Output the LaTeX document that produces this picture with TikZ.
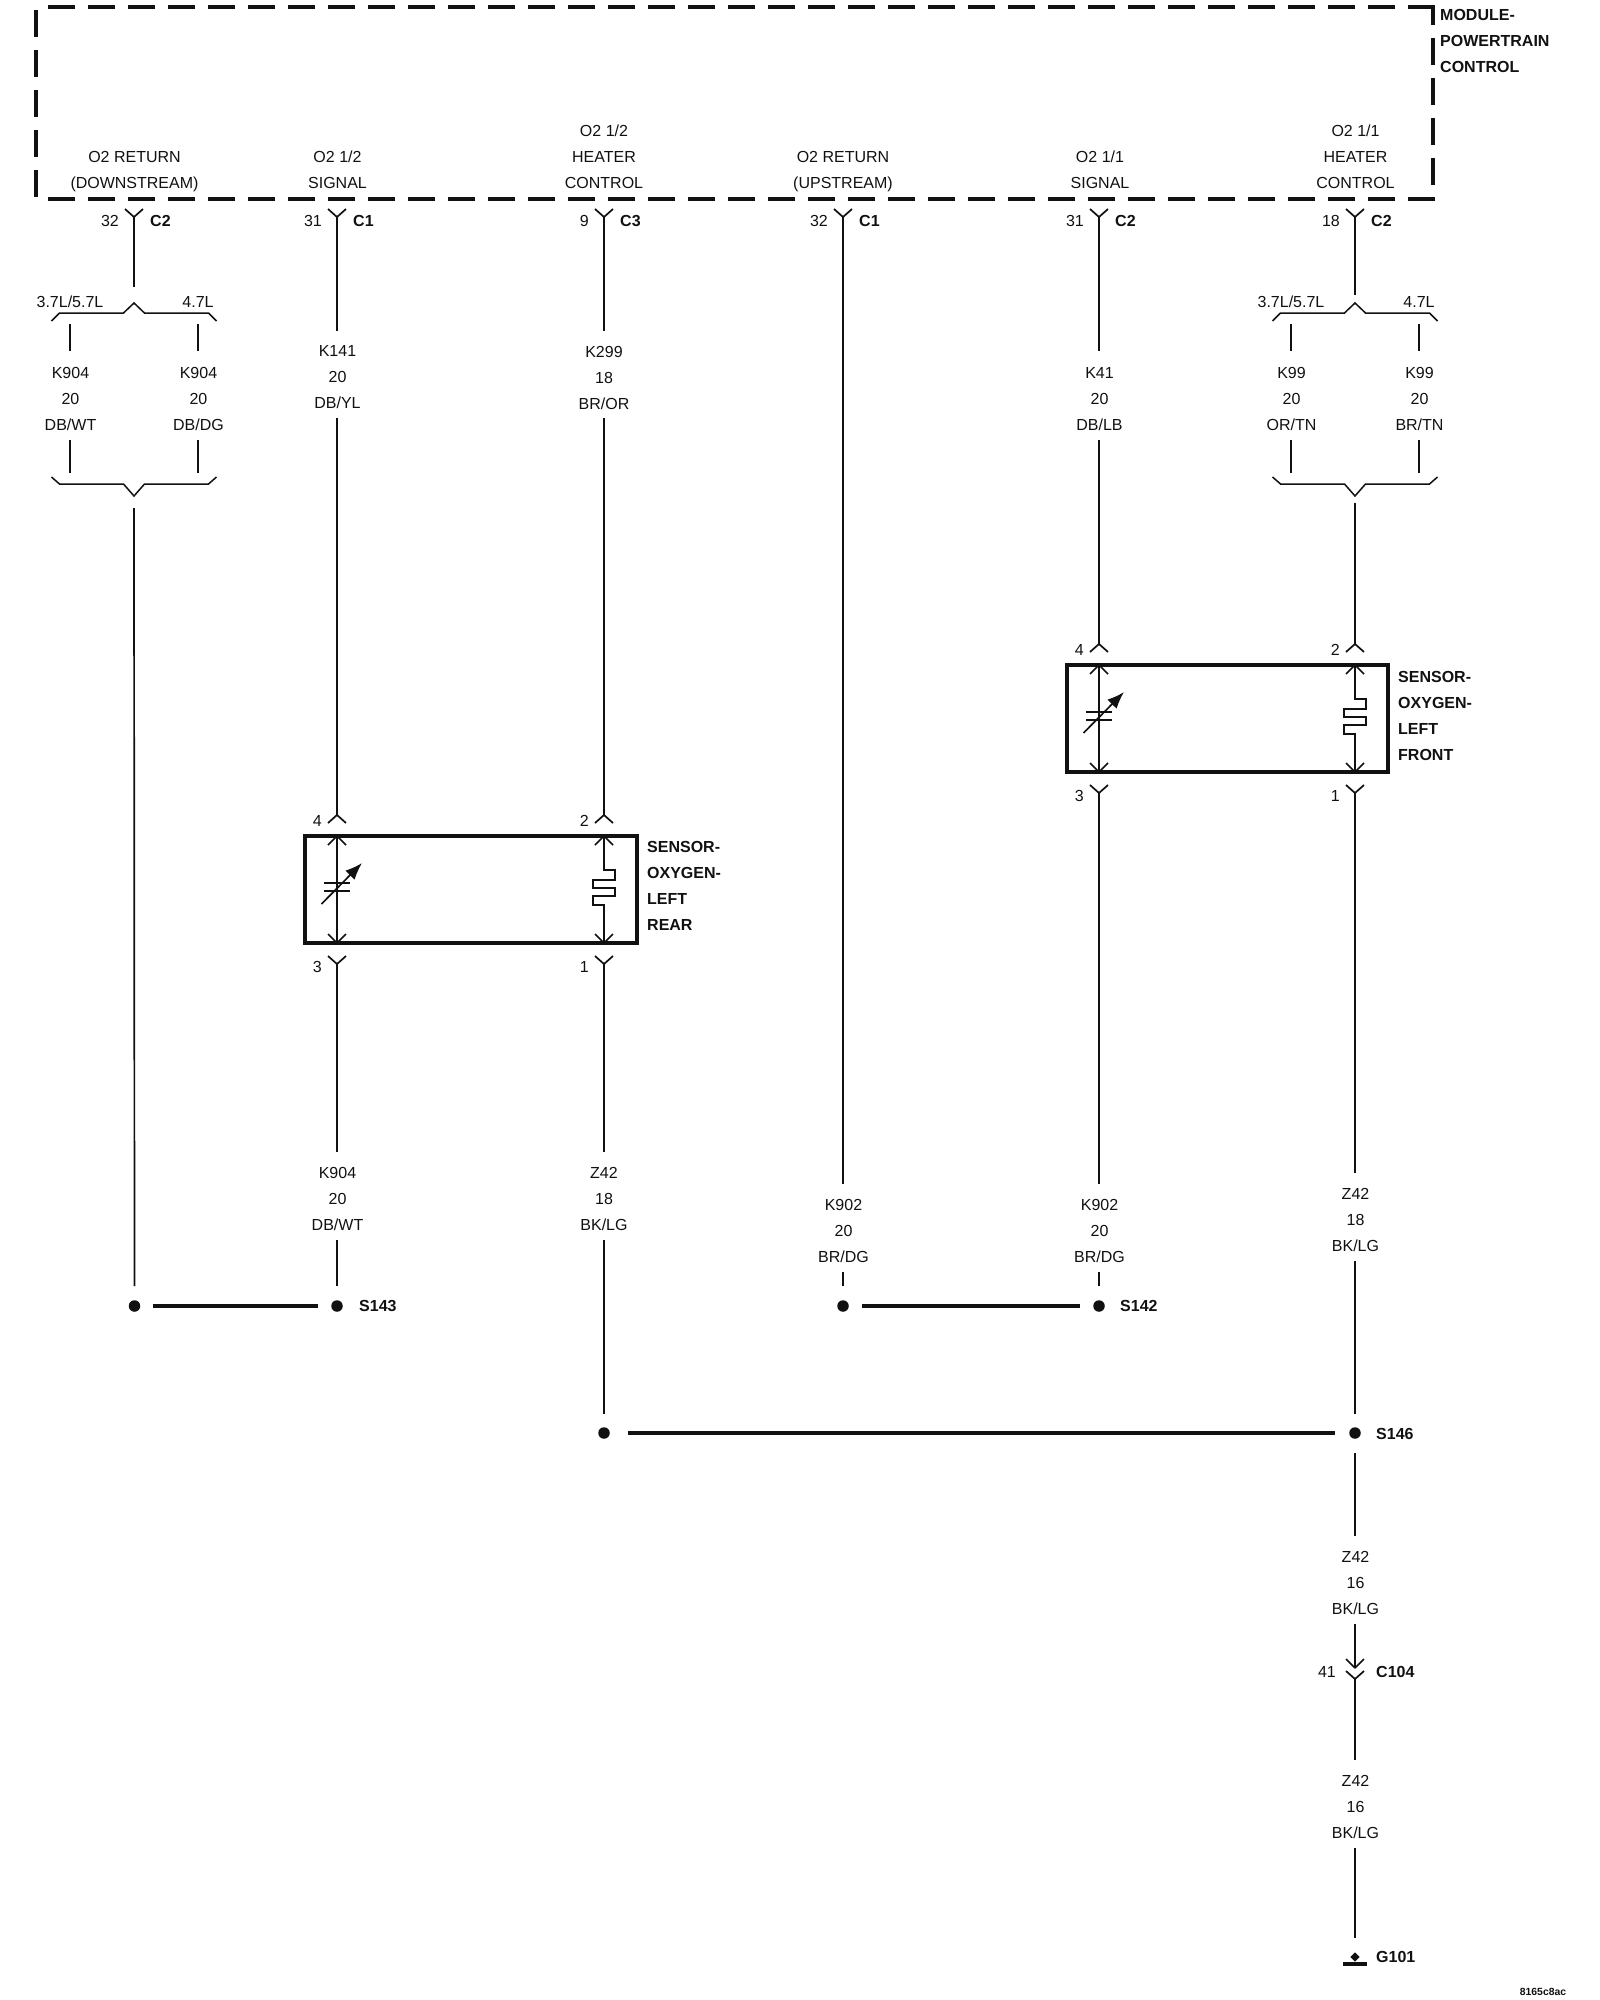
\documentclass[tikz,border=0pt]{standalone}
\usepackage{fontspec}
\setmainfont{Liberation Sans}
\usetikzlibrary{arrows.meta}
\usetikzlibrary{shapes.geometric}
\definecolor{inkcol}{HTML}{111111}

\begin{document}
\begin{tikzpicture}[x=1pt,y=-1pt,color=inkcol,
  wire/.style={line width=1.7pt,line cap=butt},
  bus/.style={line width=3.6pt},
  moddash/.style={line width=4.5pt,dash pattern=on 26.7pt off 13.3pt},
  txt/.style={inner sep=0pt,font=\fontsize{16}{26}\selectfont,align=center},
  wirelab/.style={txt},
  boldlab/.style={inner sep=0pt,font=\fontsize{16}{26}\selectfont\bfseries,align=left,anchor=west},
  sensorbox/.style={draw,rectangle,line width=3.2pt,inner sep=0pt,minimum height=107pt},
  splice/.style={circle,fill,inner sep=0pt,minimum size=11.5pt}]

  \useasboundingbox (0,0) rectangle (1600,2000);

  % module outline
  \draw[moddash] (1435,199) -- (48,199);
  \draw[moddash] (1435,7) -- (47,7);
  \draw[moddash] (1433,185) -- (1433,7);
  \draw[moddash] (36,197) -- (36,10);
  \node[boldlab] (module) at (1440,41) {MODULE-\\POWERTRAIN\\CONTROL};

  \node[txt] (tA) at (134.5,171.5) {O2 RETURN\\(DOWNSTREAM)};
  \node[txt] (tB) at (337.5,169.5) {O2 1/2\\SIGNAL};
  \node[txt] (tC) at (604,156.5) {O2 1/2\\HEATER\\CONTROL};
  \node[txt] (tD) at (843,171.5) {O2 RETURN\\(UPSTREAM)};
  \node[txt] (tE) at (1100,169.5) {O2 1/1\\SIGNAL};
  \node[txt] (tF) at (1355.5,156.5) {O2 1/1\\HEATER\\CONTROL};

  % module pins
  \foreach \n/\x/\num/\cn in {A/134/32/C2,B/337/31/C1,C/604/9/C3,D/843/32/C1,E/1099/31/C2,F/1355/18/C2}{
    \coordinate (\n-top) at (\x,217);
    \draw[wire] (\n-top) -- ++(-9,-8) (\n-top) -- ++(9,-8);
    \node[txt,anchor=east] (\n-num) at (\x-15,220.5) {\num};
    \node[boldlab] (\n-con) at (\x+16,220.5) {\cn};
  }

  % braces
  \foreach \n/\x in {A/134,F/1355}{
    \coordinate (\n-brt) at (\x,303);
    \coordinate (\n-brb) at (\x,496);
    \coordinate (\n-lt) at (\x-64,313);
    \coordinate (\n-rt) at (\x+64,313);
    \coordinate (\n-lb) at (\x-64,484);
    \coordinate (\n-rb) at (\x+64,484);
    \draw[wire,line width=1.5pt] (\n-brt) ++(-82.5,18) -- ++(8,-8) -- ++(64,0) -- (\n-brt) -- ++(10.5,10) -- ++(64,0) -- ++(8,8);
    \draw[wire,line width=1.5pt] (\n-brb) ++(-82.5,-19) -- ++(8,7) -- ++(64,0) -- (\n-brb) -- ++(10.5,-12) -- ++(64,0) -- ++(8,-7);
    \node[txt] (\n-vl) at (\x-64,301.5) {3.7L/5.7L};
    \node[txt] (\n-vr) at (\x+64,301.5) {4.7L};
  }

  % sensors
  \node[sensorbox,minimum width=332pt] (rear) at (471,889.5) {};
  \node[sensorbox,minimum width=321pt] (front) at (1227.5,718.5) {};
  \node[boldlab] (rearname) at (647,885.5) {SENSOR-\\OXYGEN-\\LEFT\\REAR};
  \node[boldlab] (frontname) at (1398,715.5) {SENSOR-\\OXYGEN-\\LEFT\\FRONT};

  \foreach \n/\x/\t/\nu/\nd in {B/337/836/4/3,C/604/836/2/1,E/1099/665/4/3,F/1355/665/2/1}{
    \coordinate (\n-up) at (\x,\t-21);
    \coordinate (\n-tp) at (\x,\t);
    \coordinate (\n-bt) at (\x,\t+107);
    \coordinate (\n-dn) at (\x,\t+128);
    \draw[wire] (\n-up) -- ++(-9,8) (\n-up) -- ++(9,8);
    \draw[wire] (\n-tp) -- ++(-9,9) (\n-tp) -- ++(9,9);
    \draw[wire] (\n-bt) -- ++(-9,-9) (\n-bt) -- ++(9,-9);
    \draw[wire] (\n-dn) -- ++(-9,-8) (\n-dn) -- ++(9,-8);
    \node[txt,anchor=east] (\n-pu) at (\x-15,\t-15) {\nu};
    \node[txt,anchor=east] (\n-pd) at (\x-15,\t+130.5) {\nd};
  }

  % variable element and heater
  \foreach \n in {B,E}{
    \draw[wire] (\n-tp) -- (\n-bt);
    \draw[wire] (\n-tp) ++(-13,47) -- ++(26,0);
    \draw[wire] (\n-tp) ++(-13,55) -- ++(26,0);
    \draw[wire,-{Latex[length=17pt,width=13pt]}] (\n-tp) ++(-15.5,68) -- ++(40.5,-41);
  }
  \foreach \n in {C,F}{
    \draw[wire] (\n-tp) -- ++(0,34) -- ++(11,0) -- ++(0,10) -- ++(-22,0) -- ++(0,8)
      -- ++(22,0) -- ++(0,8) -- ++(-22,0) -- ++(0,9) -- ++(11,0) -- (\n-bt);
  }

  % wire labels
  \node[wirelab] (k904wt) at (70.5,399) {K904\\20\\DB/WT};
  \node[wirelab] (k904dg) at (198.5,399) {K904\\20\\DB/DG};
  \node[wirelab] (k141) at (337.5,377.5) {K141\\20\\DB/YL};
  \node[wirelab] (k299) at (604,377.5) {K299\\18\\BR/OR};
  \node[wirelab] (k41) at (1099.5,399) {K41\\20\\DB/LB};
  \node[wirelab] (k99or) at (1291.5,399) {K99\\20\\OR/TN};
  \node[wirelab] (k99br) at (1419.5,399) {K99\\20\\BR/TN};
  \node[wirelab] (k904low) at (337.5,1199) {K904\\20\\DB/WT};
  \node[wirelab] (z42rear) at (604,1199) {Z42\\18\\BK/LG};
  \node[wirelab] (k902d) at (843.5,1231) {K902\\20\\BR/DG};
  \node[wirelab] (k902e) at (1099.5,1231) {K902\\20\\BR/DG};
  \node[wirelab] (z42front) at (1355.5,1220) {Z42\\18\\BK/LG};
  \node[wirelab] (z42upper) at (1355.5,1583) {Z42\\16\\BK/LG};
  \node[wirelab] (z42lower) at (1355.5,1807) {Z42\\16\\BK/LG};

  % splices
  \node[splice] (s143a) at (134.5,1306) {};
  \node[splice] (s143) at (337,1306) {};
  \node[splice] (s142a) at (843,1306) {};
  \node[splice] (s142) at (1099,1306) {};
  \node[splice] (s146a) at (604,1433) {};
  \node[splice] (s146) at (1355,1433) {};
  \node[boldlab] (ns143) at (359,1306) {S143};
  \node[boldlab] (ns142) at (1120,1306) {S142};
  \node[boldlab] (ns146) at (1376,1434) {S146};

  \draw[bus,shorten <=13pt,shorten >=13pt] (s143a) -- (s143);
  \draw[bus,shorten <=13pt,shorten >=13pt] (s142a) -- (s142);
  \draw[bus,shorten <=18pt,shorten >=14pt] (s146a) -- (s146);

  % inline connector and ground
  \coordinate (c104a) at (1355,1668);
  \coordinate (c104b) at (1355,1679);
  \draw[wire] (c104a) -- ++(-9,-9) (c104a) -- ++(9,-9);
  \draw[wire] (c104b) -- ++(-9,-8) (c104b) -- ++(9,-8);
  \node[txt,anchor=east] (n41) at (1336,1672) {41};
  \node[boldlab] (c104) at (1376,1672) {C104};
  \node[diamond,fill,inner sep=0pt,minimum size=9.5pt] (g101a) at (1355,1957) {};
  \node[rectangle,fill,inner sep=0pt,minimum width=24pt,minimum height=3.4pt] (g101b) at (1355,1964) {};
  \node[boldlab] (g101) at (1376,1957) {G101};
  \node[txt,font=\fontsize{10.4}{12}\selectfont\bfseries] (refno) at (1543,1992) {8165c8ac};

  \path[wire]
(A-top)	edge [shorten >=16pt] (A-brt)
(A-lt)	edge [shorten <=11pt,shorten >=16pt] (A-lt |- k904wt.north)
(A-rt)	edge [shorten <=11pt,shorten >=16pt] (A-rt |- k904dg.north)
(A-lb |- k904wt.south)	edge [shorten <=9pt,shorten >=11pt] (A-lb)
(A-rb |- k904dg.south)	edge [shorten <=9pt,shorten >=11pt] (A-rb)
(A-brb)	edge [shorten <=12pt,shorten >=14pt] (s143a)
(B-top)	edge [shorten >=15pt] (B-top |- k141.north)
(B-up |- k141.south)	edge [shorten <=9pt] (B-up)
(B-dn)	edge [shorten >=15pt] (B-dn |- k904low.north)
(B-dn |- k904low.south)	edge [shorten <=9pt,shorten >=14pt] (s143)
(C-top)	edge [shorten >=15pt] (k299.north)
(k299.south)	edge [shorten <=9pt] (C-up)
(C-dn)	edge [shorten >=15pt] (z42rear.north)
(z42rear.south)	edge [shorten <=9pt,shorten >=13pt] (s146a)
(D-top)	edge [shorten >=15pt] (D-top |- k902d.north)
(D-top |- k902d.south)	edge [shorten <=9pt,shorten >=14pt] (s142a)
(E-top)	edge [shorten >=16pt] (E-top |- k41.north)
(E-up |- k41.south)	edge [shorten <=9pt] (E-up)
(E-dn)	edge [shorten >=15pt] (E-dn |- k902e.north)
(E-dn |- k902e.south)	edge [shorten <=9pt,shorten >=14pt] (s142)
(F-top)	edge [shorten >=8pt] (F-brt)
(F-lt)	edge [shorten <=11pt,shorten >=16pt] (F-lt |- k99or.north)
(F-rt)	edge [shorten <=11pt,shorten >=16pt] (F-rt |- k99br.north)
(F-lb |- k99or.south)	edge [shorten <=9pt,shorten >=11pt] (F-lb)
(F-rb |- k99br.south)	edge [shorten <=9pt,shorten >=11pt] (F-rb)
(F-brb)	edge [shorten <=7pt] (F-up)
(F-dn)	edge [shorten >=15pt] (F-dn |- z42front.north)
(F-dn |- z42front.south)	edge [shorten <=9pt,shorten >=13pt] (s146)
(s146)	edge [shorten <=14pt,shorten >=15pt] (s146 |- z42upper.north)
(s146 |- z42upper.south)	edge [shorten <=9pt] (c104a)
(c104b)	edge [shorten >=15pt] (c104b |- z42lower.north)
(c104b |- z42lower.south)	edge [shorten <=9pt,shorten >=14pt] (g101a)
;
\end{tikzpicture}
\end{document}
